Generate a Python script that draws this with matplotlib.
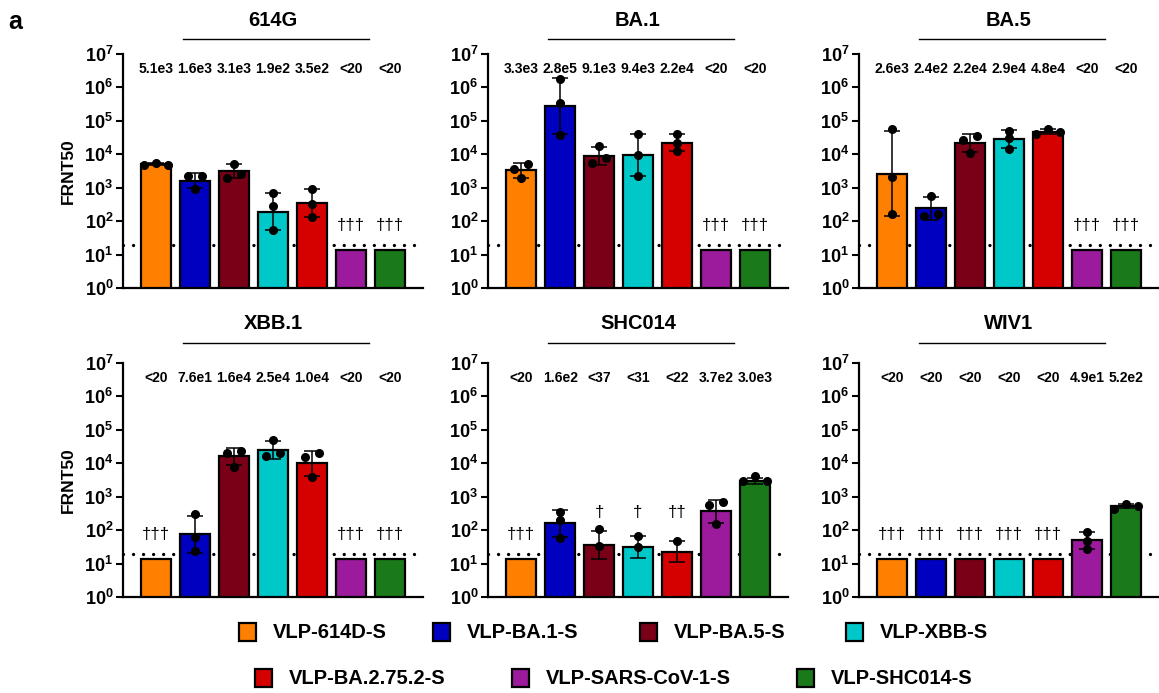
import numpy as np
import matplotlib
matplotlib.use("Agg")
import matplotlib.pyplot as plt
import matplotlib.transforms as mtransforms
from matplotlib.patches import Rectangle
from matplotlib.ticker import FixedLocator, FuncFormatter, NullLocator

plt.rcParams["font.family"] = ["Liberation Sans", "DejaVu Sans"]
plt.rcParams["mathtext.fontset"] = "custom"
plt.rcParams["mathtext.rm"] = "Liberation Sans:bold"
plt.rcParams["mathtext.it"] = "Liberation Sans:bold"
plt.rcParams["mathtext.bf"] = "Liberation Sans:bold"

# ---- data ------------------------------------------------------------
vlps = ["VLP-614D-S", "VLP-BA.1-S", "VLP-BA.5-S", "VLP-XBB-S",
        "VLP-BA.2.75.2-S", "VLP-SARS-CoV-1-S", "VLP-SHC014-S"]
colors = ["#FF8000", "#0000C0", "#7A0018", "#00C8C8",
          "#D50000", "#9C1A9C", "#1A7A1A"]
LOD = 20      # limit of detection (dotted line)
FLOOR = 14    # value drawn for titres below detection

panel_titles = ["614G", "BA.1", "BA.5", "XBB.1", "SHC014", "WIV1"]

labels_614g = ["5.1e3", "1.6e3", "3.1e3", "1.9e2", "3.5e2", "<20", "<20"]
points_614g = [[4.8e3, 5.6e3, 4.8e3], [2.2e3, 2.2e3, 8.9e2],
               [2.0e3, 5.0e3, 2.5e3], [7.1e2, 2.8e2, 56],
               [8.9e2, 3.2e2, 1.35e2], [], []]
daggers_614g = ["", "", "", "", "", "†††", "†††"]

labels_ba1 = ["3.3e3", "2.8e5", "9.1e3", "9.4e3", "2.2e4", "<20", "<20"]
points_ba1 = [[5.1e3, 3.6e3, 1.9e3], [1.8e6, 3.4e5, 3.8e4],
              [1.8e4, 5.4e3, 7.9e3], [4.0e4, 9.5e3, 2.2e3],
              [4.0e4, 2.2e4, 1.26e4], [], []]
daggers_ba1 = ["", "", "", "", "", "†††", "†††"]

labels_ba5 = ["2.6e3", "2.4e2", "2.2e4", "2.9e4", "4.8e4", "<20", "<20"]
points_ba5 = [[5.6e4, 2.1e3, 1.6e2], [5.8e2, 1.45e2, 1.6e2],
              [3.6e4, 2.7e4, 1.1e4], [5.1e4, 3.1e4, 1.45e4],
              [4.1e4, 5.6e4, 4.8e4], [], []]
daggers_ba5 = ["", "", "", "", "", "†††", "†††"]

labels_xbb = ["<20", "7.6e1", "1.6e4", "2.5e4", "1.0e4", "<20", "<20"]
points_xbb = [[], [3.0e2, 63, 24], [2.3e4, 2.1e4, 7.6e3],
              [5.0e4, 1.6e4, 2.1e4], [2.0e4, 1.5e4, 4.0e3], [], []]
daggers_xbb = ["†††", "", "", "", "", "†††", "†††"]

labels_shc = ["<20", "1.6e2", "<37", "<31", "<22", "3.7e2", "3.0e3"]
points_shc = [[], [3.5e2, 2.0e2, 58], [107, 33], [68, 31], [47],
              [6.8e2, 5.5e2, 1.56e2], [2.9e3, 4.1e3, 2.9e3]]
daggers_shc = ["†††", "", "†", "†", "††", "", ""]
# error bars read directly where some replicates fell below detection
err_shc = {2: (14, 97), 3: (15, 68), 4: (11, 47)}

labels_wiv = ["<20", "<20", "<20", "<20", "<20", "4.9e1", "5.2e2"]
points_wiv = [[], [], [], [], [], [89, 48, 27], [4.4e2, 5.9e2, 5.3e2]]
daggers_wiv = ["†††", "†††", "†††", "†††", "†††", "", ""]

panel_labels = [labels_614g, labels_ba1, labels_ba5, labels_xbb, labels_shc, labels_wiv]
panel_points = [points_614g, points_ba1, points_ba5, points_xbb, points_shc, points_wiv]
panel_daggers = [daggers_614g, daggers_ba1, daggers_ba5, daggers_xbb, daggers_shc, daggers_wiv]
panel_errs = [{}, {}, {}, {}, err_shc, {}]


def bar_height(label):
    if label == "<20":
        return FLOOR
    return float(label.lstrip("<"))


def swarm_offsets(vals):
    """spread replicates sideways when they would overlap (GraphPad-like)"""
    logs = np.log10(vals)
    order = np.argsort(logs, kind="stable")
    offs = np.zeros(len(vals))
    groups, cur = [], [order[0]]
    for a, b in zip(order[:-1], order[1:]):
        if logs[b] - logs[a] < 0.2:
            cur.append(b)
        else:
            groups.append(cur)
            cur = [b]
    groups.append(cur)
    for g in groups:
        if len(g) == 2:
            offs[g[0]], offs[g[1]] = -0.17, 0.17
        elif len(g) >= 3:
            offs[g[0]], offs[g[-1]], offs[g[1]] = -0.3, 0.0, 0.3
    return offs


# ---- figure ------------------------------------------------------------
W, H = 1159, 693
fig = plt.figure(figsize=(W / 100, H / 100), dpi=100)

col_left = [123, 488, 859]
row_top = [54, 363]
ax_w, ax_h = 300, 234
x = np.arange(len(vlps))

for i, title in enumerate(panel_titles):
    r, c = divmod(i, 3)
    ax = fig.add_axes([col_left[c] / W, 1 - (row_top[r] + ax_h) / H, ax_w / W, ax_h / H])
    heights = np.array([bar_height(l) for l in panel_labels[i]])

    ax.axhline(LOD, color="black", lw=2.4, dashes=(0.01, 3.0),
               dash_capstyle="round", zorder=1)
    ax.bar(x, heights, width=0.76, color=colors, edgecolor="black",
           linewidth=1.6, zorder=2)

    for j, pts in enumerate(panel_points[i]):
        if j in panel_errs[i]:
            lo, hi = panel_errs[i][j]
        elif len(pts) == 3:
            sd = np.std(np.log10(pts), ddof=1)
            lo, hi = heights[j] / 10 ** sd, heights[j] * 10 ** sd
        else:
            lo = hi = None
        if lo is not None:
            ax.errorbar(x[j], heights[j], yerr=[[heights[j] - lo], [hi - heights[j]]],
                        fmt="none", ecolor="black", elinewidth=1.1,
                        capsize=5.5, capthick=1.1, zorder=3)
        if pts:
            offs = swarm_offsets(pts)
            ax.plot(x[j] + offs, pts, "o", color="black", ms=5.5, zorder=4,
                    clip_on=False)

    for j, d in enumerate(panel_daggers[i]):
        if d:
            yd = 72 if heights[j] < LOD else 330
            ax.text(x[j], yd, d, ha="center", va="center", fontsize=12)

    trans = mtransforms.blended_transform_factory(ax.transData, ax.transAxes)
    for j, l in enumerate(panel_labels[i]):
        ax.text(x[j], 0.935, l, transform=trans, ha="center", va="center",
                fontsize=10, fontweight="bold")

    ax.set_yscale("log")
    ax.set_ylim(1, 1e7)
    ax.set_xlim(-0.85, 6.85)
    ax.yaxis.set_major_locator(FixedLocator([10.0 ** k for k in range(8)]))
    ax.yaxis.set_minor_locator(NullLocator())
    ax.yaxis.set_major_formatter(FuncFormatter(
        lambda v, p: r"$\mathrm{10^{%d}}$" % int(round(np.log10(v)))))
    ax.set_xticks([])
    for s in ["top", "right"]:
        ax.spines[s].set_visible(False)
    for s in ["left", "bottom"]:
        ax.spines[s].set_linewidth(1.6)
    ax.tick_params(axis="y", length=5, width=1.5, labelsize=13, pad=2)
    ax.set_facecolor("none")
    if c == 0:
        ax.set_ylabel("FRNT50", fontsize=12.5, fontweight="bold", labelpad=6)

    ty, ly = (1.145, 1.062) if r == 0 else (1.17, 1.085)
    ax.text(0.5, ty, title, transform=ax.transAxes, ha="center", va="center",
            fontsize=14.5, fontweight="bold")
    ax.plot([0.2, 0.82], [ly, ly], transform=ax.transAxes, color="black",
            lw=1.0, clip_on=False)

fig.text(15 / W, 1 - 22 / H, "a", fontsize=18, fontweight="bold",
         ha="center", va="center")

# ---- legend (two hand-placed rows) -------------------------------------
leg_rows = [(0, [239, 433, 640, 846], 632), (4, [255, 512, 797], 678)]
for start, xs, yc in leg_rows:
    for k, xl in enumerate(xs):
        idx = start + k
        fig.patches.append(Rectangle((xl / W, 1 - (yc + 9) / H), 17 / W, 18 / H,
                                     transform=fig.transFigure, facecolor=colors[idx],
                                     edgecolor="black", linewidth=1.6))
        fig.text((xl + 34) / W, 1 - yc / H, vlps[idx], fontsize=14.5,
                 fontweight="bold", ha="left", va="center")

fig.savefig("out.png", dpi=100)
